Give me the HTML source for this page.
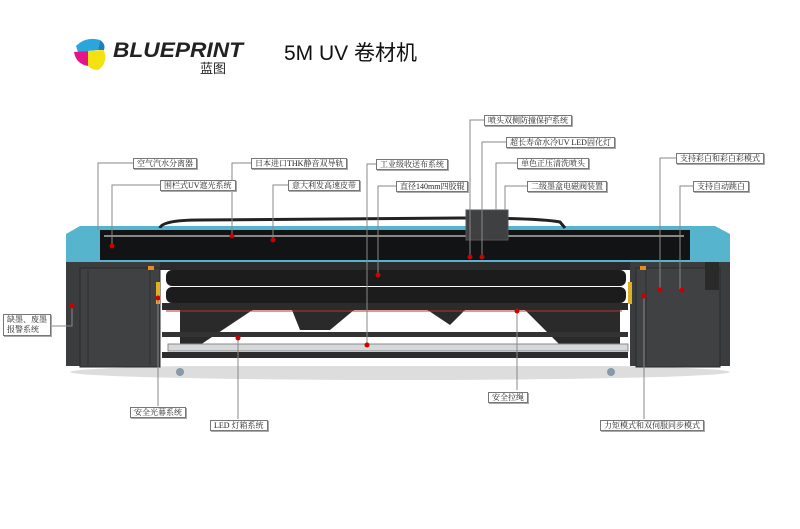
<!DOCTYPE html>
<html><head><meta charset="utf-8"><style>
body{margin:0;width:800px;height:529px;background:#fff;overflow:hidden;position:relative;font-family:"Liberation Serif","Noto Serif CJK SC",serif}
.l{position:absolute;border:1px solid #777;background:#fff;font-size:8px;line-height:9px;padding:0 3px;color:#222;white-space:nowrap;box-shadow:1px 1px 0 #aaa}
</style></head><body>
<svg width="800" height="529" style="position:absolute;left:0;top:0">
<g transform="translate(74,36)">
<path d="M2 10 Q12 0 26 4 L24 14 L4 16 Z" fill="#2aa6dc"/>
<path d="M0 16 L14 15 L14 30 Q2 28 0 16Z" fill="#e2168a"/>
<path d="M14 15 L30 14 Q34 28 24 34 Q18 34 14 30Z" fill="#f5e10f"/>
<path d="M26 4 Q32 8 30 14 L24 14Z" fill="#1b7fc0"/>
</g>
<text x="113" y="57" font-family="Liberation Sans,sans-serif" font-size="21" font-weight="bold" font-style="italic" fill="#222" textLength="130" lengthAdjust="spacingAndGlyphs">BLUEPRINT</text>
<text x="200" y="73" font-family="Noto Sans CJK SC,sans-serif" font-size="13" fill="#222">蓝图</text>
<text x="284" y="60" font-family="Liberation Sans,Noto Sans CJK SC,sans-serif" font-size="21" fill="#111">5M UV 卷材机</text>
<ellipse cx="400" cy="372" rx="330" ry="8" fill="#ddd"/>
<rect x="66" y="256" width="664" height="110" fill="#3a3c3e"/>
<polygon points="66,234 80,226 715,226 730,234 730,262 66,262" fill="#56b4cc"/>
<rect x="100" y="230" width="590" height="30" fill="#121314"/>
<path d="M160 228 Q162 220 200 220 L460 218 Q540 218 560 222 L565 228" stroke="#222" stroke-width="3" fill="none"/>
<rect x="104" y="235" width="580" height="2" fill="#888"/>
<rect x="466" y="210" width="42" height="30" fill="#3e4042" stroke="#555"/>
<rect x="160" y="262" width="470" height="104" fill="#ffffff"/>
<rect x="160" y="262" width="470" height="8" fill="#2a2b2c"/>
<rect x="166" y="270" width="460" height="16" rx="6" fill="#1c1c1d"/>
<rect x="166" y="287" width="460" height="16" rx="6" fill="#1c1c1d"/>
<polygon points="180,305 260,305 200,345 180,345" fill="#2a2a2a"/>
<polygon points="290,305 360,305 330,330 300,330" fill="#2a2a2a"/>
<polygon points="420,305 470,305 450,325" fill="#2a2a2a"/>
<polygon points="520,305 620,305 620,345 560,345" fill="#2a2a2a"/>
<rect x="162" y="303" width="466" height="7" fill="#2b2b2b"/>
<line x1="166" y1="311" x2="622" y2="311" stroke="#b33" stroke-width="1"/>
<rect x="162" y="332" width="466" height="5" fill="#333"/>
<rect x="168" y="344" width="460" height="7" fill="#d6d8da" stroke="#888"/>
<rect x="162" y="352" width="466" height="6" fill="#2d2d2d"/>
<rect x="80" y="268" width="80" height="99" fill="#3f4143" stroke="#2a2a2a"/>
<line x1="88" y1="270" x2="88" y2="365" stroke="#2f3032"/>
<line x1="150" y1="270" x2="150" y2="365" stroke="#2f3032"/>
<rect x="636" y="268" width="84" height="99" fill="#3f4143" stroke="#2a2a2a"/>
<line x1="646" y1="270" x2="646" y2="365" stroke="#2f3032"/>
<rect x="156" y="282" width="4" height="22" fill="#e0b020"/>
<rect x="628" y="282" width="4" height="22" fill="#e0b020"/>
<rect x="148" y="266" width="6" height="4" fill="#e88a20"/>
<rect x="640" y="266" width="6" height="4" fill="#e88a20"/>
<rect x="705" y="262" width="14" height="28" fill="#2a2a2a"/>
<circle cx="180" cy="372" r="4" fill="#889aa8"/><circle cx="611" cy="372" r="4" fill="#889aa8"/>
<g stroke="#888" stroke-width="1" fill="none">
<polyline points="133,163 98,163 98,230"/>
<polyline points="160,185 112,185 112,246"/>
<polyline points="251,163 232,163 232,236"/>
<polyline points="288,185 273,185 273,240"/>
<polyline points="376,164 367,164 367,345"/>
<polyline points="396,186 378,186 378,275"/>
<polyline points="484,120 470,120 470,257"/>
<polyline points="506,142 482,142 482,256"/>
<polyline points="517,163 496,163 496,210"/>
<polyline points="527,186 505,186 505,210"/>
<polyline points="676,158 660,158 660,290"/>
<polyline points="693,186 680,186 680,290"/>
<polyline points="52,326 72,326 72,306"/>
<polyline points="158,298 158,406"/>
<polyline points="238,338 238,419"/>
<polyline points="517,311 517,390"/>
<polyline points="644,296 644,419"/>
</g>
<g fill="#c00">
<circle cx="112" cy="246" r="2.5"/><circle cx="232" cy="236" r="2.5"/><circle cx="273" cy="240" r="2.5"/>
<circle cx="367" cy="345" r="2.5"/><circle cx="378" cy="275" r="2.5"/><circle cx="470" cy="257" r="2.5"/>
<circle cx="482" cy="257" r="2.5"/><circle cx="660" cy="290" r="2.5"/><circle cx="682" cy="290" r="2.5"/>
<circle cx="72" cy="306" r="2.5"/><circle cx="158" cy="298" r="2.5"/><circle cx="238" cy="338" r="2.5"/>
<circle cx="517" cy="311" r="2.5"/><circle cx="644" cy="296" r="2.5"/>
</g>
</svg>
<div class="l" style="left:133px;top:158px">空气汽水分离器</div>
<div class="l" style="left:160px;top:180px">围栏式UV遮光系统</div>
<div class="l" style="left:251px;top:158px">日本进口THK静音双导轨</div>
<div class="l" style="left:288px;top:180px">意大利发高速皮带</div>
<div class="l" style="left:376px;top:159px">工业级收送布系统</div>
<div class="l" style="left:396px;top:181px">直径140mm四胶辊</div>
<div class="l" style="left:484px;top:115px">喷头双侧防撞保护系统</div>
<div class="l" style="left:506px;top:137px">超长寿命水冷UV LED固化灯</div>
<div class="l" style="left:517px;top:158px">单色正压清洗喷头</div>
<div class="l" style="left:527px;top:181px">二级墨盒电磁阀装置</div>
<div class="l" style="left:676px;top:153px">支持彩白和彩白彩模式</div>
<div class="l" style="left:693px;top:181px">支持自动跳白</div>
<div class="l" style="left:3px;top:314px;line-height:10px">缺墨、废墨<br>报警系统</div>
<div class="l" style="left:130px;top:407px">安全光幕系统</div>
<div class="l" style="left:210px;top:420px">LED 灯箱系统</div>
<div class="l" style="left:488px;top:392px">安全拉绳</div>
<div class="l" style="left:600px;top:420px">力矩模式和双伺服同步模式</div>
</body></html>
